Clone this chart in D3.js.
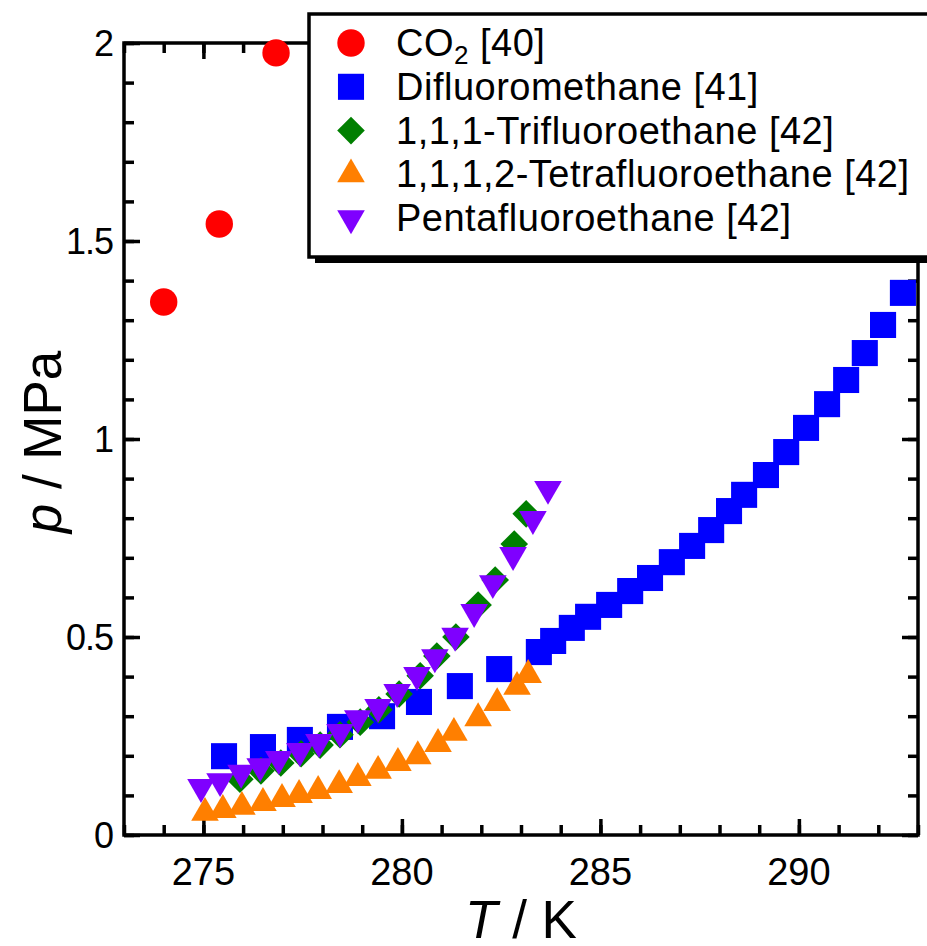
<!DOCTYPE html>
<html lang="en">
<head>
    <meta charset="UTF-8">
    <title>Vapour pressure vs temperature</title>
    <script src="https://d3js.org/d3.v7.min.js"></script>
    <style>
        body { margin: 0; background: #fff; }
        text { font-family: "Liberation Sans", Arial, Helvetica, sans-serif; fill: #000; }
    </style>
</head>
<body>
    <div id="chart"></div>
    <script>
        // Data (T in K, p in MPa)
        const co2T = [274.00, 275.40, 276.83];
        const co2P = [1.346, 1.543, 1.975];

        const r32T = [275.52, 276.50, 277.43, 278.44, 279.50, 280.43, 281.46, 282.45, 283.45, 283.81,
                      284.28, 284.69, 285.22, 285.75, 286.25, 286.80, 287.31, 287.79, 288.24, 288.62,
                      289.17, 289.68, 290.18, 290.71, 291.19, 291.66, 292.12, 292.62];
        const r32P = [0.199, 0.222, 0.240, 0.273, 0.300, 0.336, 0.376, 0.419, 0.462, 0.490,
                      0.523, 0.551, 0.581, 0.616, 0.649, 0.689, 0.730, 0.770, 0.818, 0.859,
                      0.909, 0.967, 1.028, 1.088, 1.149, 1.217, 1.288, 1.369];

        const r143aT = [275.92, 276.45, 276.95, 277.46, 277.94, 278.44, 278.95, 279.42, 279.93, 280.46,
                        280.88, 281.36, 281.92, 282.35, 282.83, 283.13];
        const r143aP = [0.141, 0.162, 0.182, 0.205, 0.227, 0.253, 0.285, 0.316, 0.356, 0.402,
                        0.452, 0.500, 0.581, 0.644, 0.735, 0.811];

        const r134aT = [275.04, 275.49, 275.97, 276.50, 276.98, 277.41, 277.89, 278.42, 278.89, 279.40,
                        279.90, 280.40, 280.91, 281.31, 281.92, 282.40, 282.90, 283.18];
        const r134aP = [0.056, 0.063, 0.071, 0.081, 0.091, 0.101, 0.111, 0.126, 0.144, 0.162,
                        0.182, 0.199, 0.230, 0.258, 0.295, 0.333, 0.374, 0.404];

        const r125T = [274.94, 275.42, 275.95, 276.43, 276.90, 277.43, 277.91, 278.44, 278.89, 279.40,
                       279.88, 280.38, 280.83, 281.34, 281.82, 282.29, 282.80, 283.30, 283.68];
        const r125P = [0.121, 0.136, 0.157, 0.174, 0.192, 0.212, 0.235, 0.260, 0.295, 0.323,
                       0.361, 0.404, 0.449, 0.503, 0.563, 0.636, 0.707, 0.798, 0.874];

        const xTicks = [275, 280, 285, 290];
        const yTicks = [0, 0.5, 1, 1.5, 2];
        const legendLabels = ["CO2 [40]", "Difluoromethane [41]", "1,1,1-Trifluoroethane [42]",
                              "1,1,1,2-Tetrafluoroethane [42]", "Pentafluoroethane [42]"];

        const width = 927, height = 946;
        const svg = d3.select("#chart").append("svg")
            .attr("width", width)
            .attr("height", height);

        const x = d3.scaleLinear().domain([273, 293]).range([124, 918]);
        const y = d3.scaleLinear().domain([0, 2]).range([835, 43]);

        // marker shapes
        const sym = {
            circle:   { path: d3.symbol(d3.symbolCircle, 590)(), rot: 0, color: "#ff0000" },
            square:   { path: d3.symbol(d3.symbolSquare, 680)(), rot: 0, color: "#0000ff" },
            diamond:  { path: d3.symbol(d3.symbolSquare, 380)(), rot: 45, color: "#007f00" },
            up:       { path: d3.symbol(d3.symbolTriangle, 330)(), rot: 0, color: "#ff7f00" },
            down:     { path: d3.symbol(d3.symbolTriangle, 330)(), rot: 180, color: "#7f00ff" }
        };

        const series = [
            { T: co2T, P: co2P, s: sym.circle },
            { T: r32T, P: r32P, s: sym.square },
            { T: r143aT, P: r143aP, s: sym.diamond },
            { T: r134aT, P: r134aP, s: sym.up },
            { T: r125T, P: r125P, s: sym.down }
        ];

        // ticks (inward on all four sides)
        const ax = svg.append("g");
        const minorX = d3.range(273, 294, 1);
        const minorY = d3.range(0, 21).map(d => d / 10);

        const addTicks = (gen, tf) => {
            ax.append("g").attr("transform", tf).call(gen)
                .call(g => g.select(".domain").remove())
                .call(g => g.selectAll("line").attr("stroke", "#000").attr("stroke-width", 3.5));
        };
        addTicks(d3.axisBottom(x).tickValues(minorX).tickSize(-10).tickFormat(""), "translate(0,835)");
        addTicks(d3.axisBottom(x).tickValues(xTicks).tickSize(-16).tickFormat(""), "translate(0,835)");
        addTicks(d3.axisTop(x).tickValues(minorX).tickSize(-10).tickFormat(""), "translate(0,43)");
        addTicks(d3.axisTop(x).tickValues(xTicks).tickSize(-16).tickFormat(""), "translate(0,43)");
        addTicks(d3.axisLeft(y).tickValues(minorY).tickSize(-10).tickFormat(""), "translate(124,0)");
        addTicks(d3.axisLeft(y).tickValues(yTicks).tickSize(-16).tickFormat(""), "translate(124,0)");
        addTicks(d3.axisRight(y).tickValues(minorY).tickSize(-10).tickFormat(""), "translate(918,0)");
        addTicks(d3.axisRight(y).tickValues(yTicks).tickSize(-16).tickFormat(""), "translate(918,0)");

        // frame
        svg.append("rect")
            .attr("x", x(273)).attr("y", y(2))
            .attr("width", x(293) - x(273)).attr("height", y(0) - y(2))
            .attr("fill", "none").attr("stroke", "#000").attr("stroke-width", 3.5);

        // tick labels
        svg.append("g").selectAll("text").data(xTicks).join("text")
            .attr("x", d => x(d)).attr("y", 885)
            .attr("text-anchor", "middle")
            .style("font-size", "38px")
            .text(d => d);

        svg.append("g").selectAll("text").data(yTicks).join("text")
            .attr("x", 113).attr("y", d => y(d) + 13)
            .attr("text-anchor", "end")
            .style("font-size", "36px")
            .style("letter-spacing", "-1px")
            .text(d => d);

        // axis titles
        const xt = svg.append("text")
            .attr("x", 521).attr("y", 938)
            .attr("text-anchor", "middle")
            .style("font-size", "53px");
        xt.append("tspan").style("font-style", "italic").text("T");
        xt.append("tspan").text(" / K");

        const yt = svg.append("text")
            .attr("transform", "translate(61,442) rotate(-90)")
            .attr("text-anchor", "middle")
            .style("font-size", "53px");
        yt.append("tspan").style("font-style", "italic").text("p");
        yt.append("tspan").text(" / MPa");

        // data points
        series.forEach(sr => {
            svg.append("g").selectAll("path").data(sr.T).join("path")
                .attr("d", sr.s.path)
                .attr("fill", sr.s.color)
                .attr("transform", (d, i) => `translate(${x(d)},${y(sr.P[i])}) rotate(${sr.s.rot})`);
        });

        // legend with drop shadow
        const lg = svg.append("g");
        lg.append("rect").attr("x", 315).attr("y", 20).attr("width", 640).attr("height", 243).attr("fill", "#000");
        lg.append("rect").attr("x", 309).attr("y", 14).attr("width", 640).attr("height", 243)
            .attr("fill", "#fff").attr("stroke", "#000").attr("stroke-width", 3.5);

        series.forEach((sr, i) => {
            const cy = 43 + i * 43.8;
            lg.append("path")
                .attr("d", sr.s.path)
                .attr("fill", sr.s.color)
                .attr("transform", `translate(351,${cy}) rotate(${sr.s.rot})`);
            const t = lg.append("text")
                .attr("x", 396).attr("y", cy + 13)
                .style("font-size", "38px")
                .style("letter-spacing", "0.5px");
            if (i === 0) {
                t.append("tspan").text("CO");
                t.append("tspan").attr("dy", 8).style("font-size", "26px").text("2");
                t.append("tspan").attr("dy", -8).text(" [40]");
            } else {
                t.text(legendLabels[i]);
            }
        });
    </script>
</body>
</html>
